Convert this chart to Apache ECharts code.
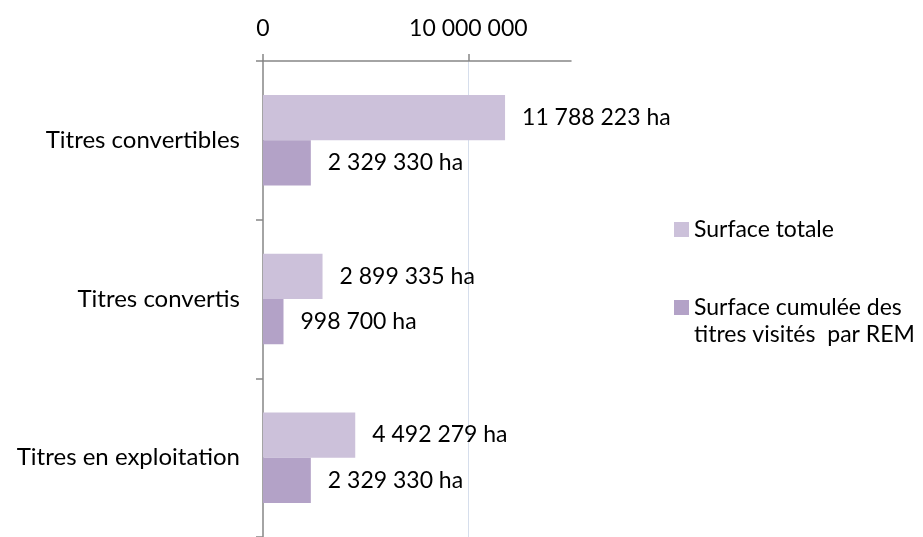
<!DOCTYPE html>
<html>
<head>
<meta charset="utf-8">
<script src="https://cdn.jsdelivr.net/npm/echarts@6/dist/echarts.min.js"></script>
<style>
  html, body { margin: 0; padding: 0; background: #fff; }
  #chart { width: 923px; height: 537px; }
</style>
</head>
<body>
<div id="chart"></div>
<script>
var categories = ['Titres convertibles', 'Titres convertis', 'Titres en exploitation']
var surfaceTotale = [11788223, 2899335, 4492279]
var surfaceVisitee = [2329330, 998700, 2329330]
var seriesNames = ['Surface totale', 'Surface cumulée des titres visités par REM']
var axisTicks = [0, 10000000]

var FONT = 'Lato'

// 11788223 -> "11 788 223"
function fmt(v) {
  return String(v).replace(/\B(?=(\d{3})+(?!\d))/g, ' ')
}

var chart = echarts.init(document.getElementById('chart'))

var barLabel = {
  show: true,
  position: 'right',
  distance: 17,
  fontSize: 23,
  color: '#000',
  fontFamily: FONT,
  formatter: function (p) { return fmt(p.value) + ' ha' }
}

chart.setOption({
  animation: false,
  textStyle: { fontFamily: FONT },
  grid: {
    left: 263,
    right: 352,
    top: 61,
    bottom: -7
  },
  legend: {
    orient: 'vertical',
    left: 674,
    top: 216,
    padding: 0,
    itemWidth: 15,
    itemHeight: 15,
    itemGap: 24,
    icon: 'rect',
    textStyle: { fontSize: 23, color: '#000', fontFamily: FONT, lineHeight: 27 },
    // blank first line keeps the square level with the first text line
    formatter: function (name) {
      return name === seriesNames[1] ? '\nSurface cumulée des\ntitres visités  par REM' : name
    },
    data: seriesNames
  },
  xAxis: {
    type: 'value',
    position: 'top',
    min: 0,
    max: 15000000,
    interval: 10000000,
    axisLine: { show: true, lineStyle: { color: '#868686', width: 1.5 } },
    axisTick: { show: true, length: 7, customValues: axisTicks, lineStyle: { color: '#868686', width: 1.5 } },
    axisLabel: {
      customValues: axisTicks,
      margin: 21,
      fontSize: 23,
      color: '#000',
      fontFamily: FONT,
      formatter: function (v) { return fmt(v) }
    },
    splitLine: {
      show: true,
      lineStyle: { color: ['transparent', '#D6DEEC', 'transparent'], width: 1 }
    }
  },
  yAxis: {
    type: 'category',
    inverse: true,
    data: categories,
    axisLine: { show: true, lineStyle: { color: '#868686', width: 1.5 } },
    axisTick: { show: true, length: 7, lineStyle: { color: '#868686', width: 1.5 } },
    axisLabel: { margin: 23, fontSize: 24, color: '#000', fontFamily: FONT }
  },
  series: [
    {
      name: seriesNames[0],
      type: 'bar',
      data: surfaceTotale,
      barGap: '0%',
      barCategoryGap: '43%',
      itemStyle: { color: '#CCC1DA' },
      label: barLabel
    },
    {
      name: seriesNames[1],
      type: 'bar',
      data: surfaceVisitee,
      barGap: '0%',
      barCategoryGap: '43%',
      itemStyle: { color: '#B3A2C7' },
      label: barLabel
    }
  ]
})
</script>
</body>
</html>
